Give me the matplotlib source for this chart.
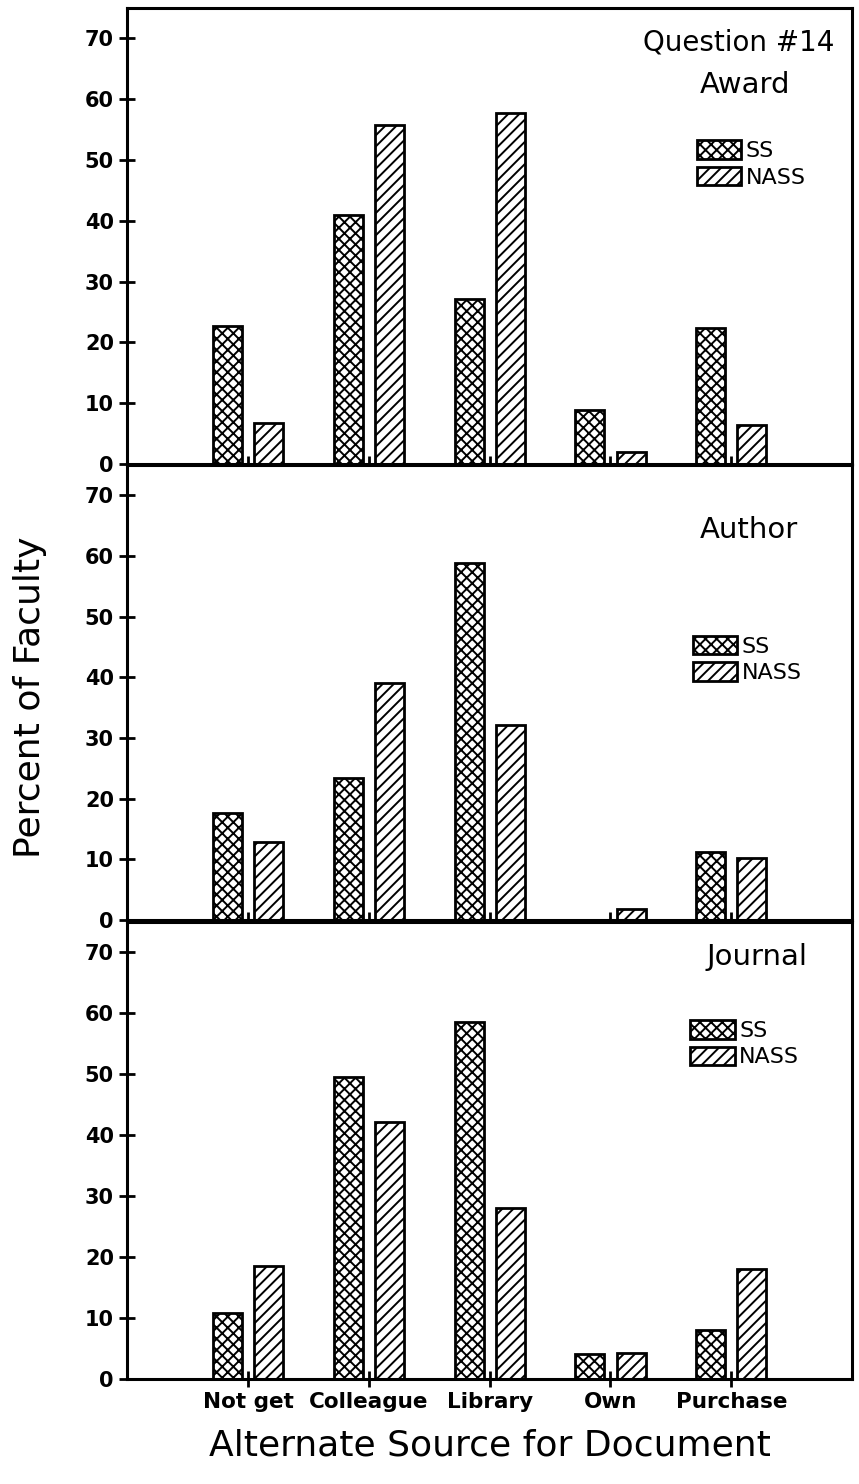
import numpy as np
from matplotlib import pyplot as plt
from matplotlib.patches import Patch

categories = ["Not get", "Colleague", "Library", "Own", "Purchase"]

award_ss = [22.7, 40.9, 27.2, 8.9, 22.3]
award_nass = [6.8, 55.7, 57.8, 1.9, 6.4]

author_ss = [17.6, 23.4, 58.8, 0.0, 11.3]
author_nass = [12.9, 39.0, 32.2, 1.8, 10.3]

journal_ss = [10.8, 49.5, 58.5, 4.1, 8.1]
journal_nass = [18.6, 42.2, 28.0, 4.2, 18.1]

yticks = [0, 10, 20, 30, 40, 50, 60, 70]

plt.rcParams["hatch.linewidth"] = 1.4
plt.rcParams["font.family"] = ["DejaVu Sans"]


def plot_panel(ax, ss, nass, label, label_pos, legend_pos, extra=None):
    x = np.arange(len(categories))
    ax.bar(x - 0.17, ss, width=0.24, color="white", edgecolor="black",
           hatch="xxx", linewidth=2)
    ax.bar(x + 0.17, nass, width=0.24, color="white", edgecolor="black",
           hatch="///", linewidth=2)
    ax.set_xlim(-1, 5)
    ax.set_ylim(0, 75)
    ax.set_yticks(yticks)
    ax.set_yticklabels([str(t) for t in yticks], fontsize=15, fontweight="bold")
    ax.set_xticks(x)
    ax.tick_params(axis="both", direction="inout", length=12, width=2)
    for s in ax.spines.values():
        s.set_linewidth(2.2)

    ax.text(label_pos[0], label_pos[1], label, transform=ax.transAxes,
            ha="center", va="center", fontsize=21)
    if extra:
        ax.text(0.975, 0.925, extra, transform=ax.transAxes,
                ha="right", va="center", fontsize=20)

    handles = [
        Patch(facecolor="white", edgecolor="black", hatch="xxx", linewidth=2, label="SS"),
        Patch(facecolor="white", edgecolor="black", hatch="///", linewidth=2, label="NASS"),
    ]
    ax.legend(handles=handles, loc="upper left", bbox_to_anchor=legend_pos,
              frameon=False, fontsize=16, handlelength=2.0, handleheight=0.9,
              handletextpad=0.2, labelspacing=0.25, borderaxespad=0,
              borderpad=0)


fig = plt.figure(figsize=(8.59, 14.84), dpi=100)
left, width = 0.148, 0.844
ax1 = fig.add_axes([left, 0.6873, width, 0.3073])
ax2 = fig.add_axes([left, 0.3800, width, 0.3066])
ax3 = fig.add_axes([left, 0.0708, width, 0.3080])

plot_panel(ax1, award_ss, award_nass, "Award", (0.852, 0.831), (0.786, 0.71),
           extra="Question #14")
plot_panel(ax2, author_ss, author_nass, "Author", (0.857, 0.857), (0.780, 0.625))
plot_panel(ax3, journal_ss, journal_nass, "Journal", (0.869, 0.923), (0.777, 0.785))

ax1.set_xticklabels([])
ax2.set_xticklabels([])
ax3.set_xticklabels(categories, fontsize=15.5, fontweight="bold")

ax3.set_xlabel("Alternate Source for Document", fontsize=26, labelpad=12)
fig.text(0.035, 0.53, "Percent of Faculty", rotation=90, ha="center",
         va="center", fontsize=26)

fig.savefig("out.png", dpi=100)
